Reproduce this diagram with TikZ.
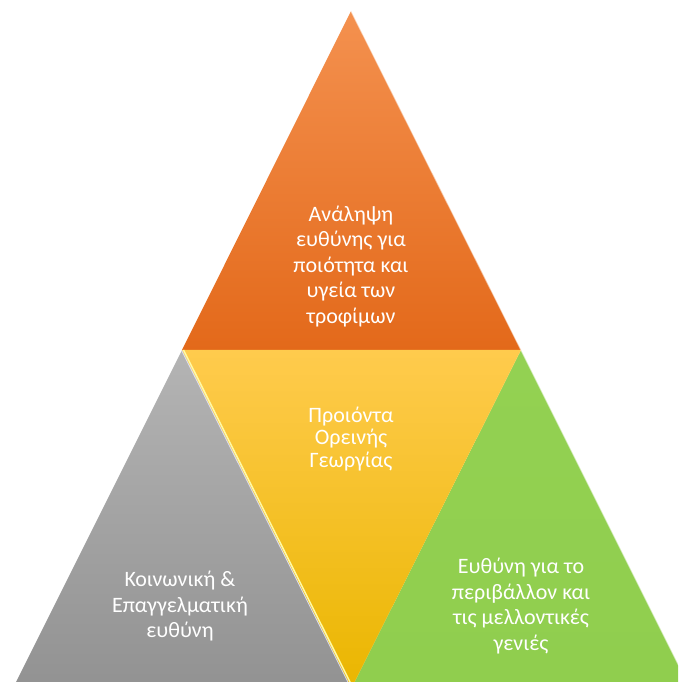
\documentclass[tikz,border=0pt]{standalone}
\usepackage{fontspec}
\setmainfont{Carlito}
\usepackage{tikz}

\definecolor{orTop}{HTML}{F4914F}
\definecolor{orBot}{HTML}{E3691A}
\definecolor{yeTop}{HTML}{FFCB4D}
\definecolor{yeMid}{HTML}{FFC606}
\definecolor{yeBot}{HTML}{EAB600}
\definecolor{grTop}{HTML}{B4B4B4}
\definecolor{grBot}{HTML}{929292}
\definecolor{geTop}{HTML}{93D152}
\definecolor{geBot}{HTML}{90CE4E}

\tikzset{
  lbl/.style={text=white, align=center, font=\fontsize{22}{25.5}\selectfont},
  hilite/.style={line width=1.2pt, white, opacity=0.55}
}

\begin{document}
\begin{tikzpicture}[x=1pt,y=1pt]

\useasboundingbox (0,0) rectangle (678,682);
\clip (0,0) rectangle (678,682);

\coordinate (T) at (351,671);
\coordinate (L) at (182,332);
\coordinate (R) at (521,332);
\coordinate (BL) at (13,-6);
\coordinate (BM) at (351.5,-6);
\coordinate (BR) at (690,-6);

\shade[top color=orTop, bottom color=orBot] (T) -- (L) -- (R) -- cycle;
\shade[top color=grTop, bottom color=grBot] (L) -- (BL) -- (BM) -- cycle;
\shade[top color=geTop, bottom color=geBot] (R) -- (BM) -- (BR) -- cycle;
\shade[top color=yeTop, middle color=yeMid, bottom color=yeBot] (L) -- (R) -- (BM) -- cycle;

\foreach \a/\b in {T/R, R/BR}
    \draw[hilite] (\a) -- (\b);

\draw[line width=1.5pt, yellow!35!white] ([xshift=1.5pt]L) -- ([xshift=1.5pt]BM);
\draw[line width=0.8pt, blue!8!white, opacity=0.8] ([xshift=-0.6pt]L) -- ([xshift=-0.6pt]BM);

\node[lbl] (food) at (351,415.5) {Ανάληψη\\ευθύνης για\\ποιότητα και\\υγεία των\\τροφίμων};
\node[lbl, font=\fontsize{22}{22.5}\selectfont] (prod) at (351,243) {Προιόντα\\Ορεινής\\Γεωργίας};
\node[lbl] (social) at (180,75.5) {Κοινωνική \&\\Επαγγελματική\\ευθύνη};
\node[lbl] (env) at (521,76) {Ευθύνη για το\\περιβάλλον και\\τις μελλοντικές\\γενιές};

\end{tikzpicture}
\end{document}
